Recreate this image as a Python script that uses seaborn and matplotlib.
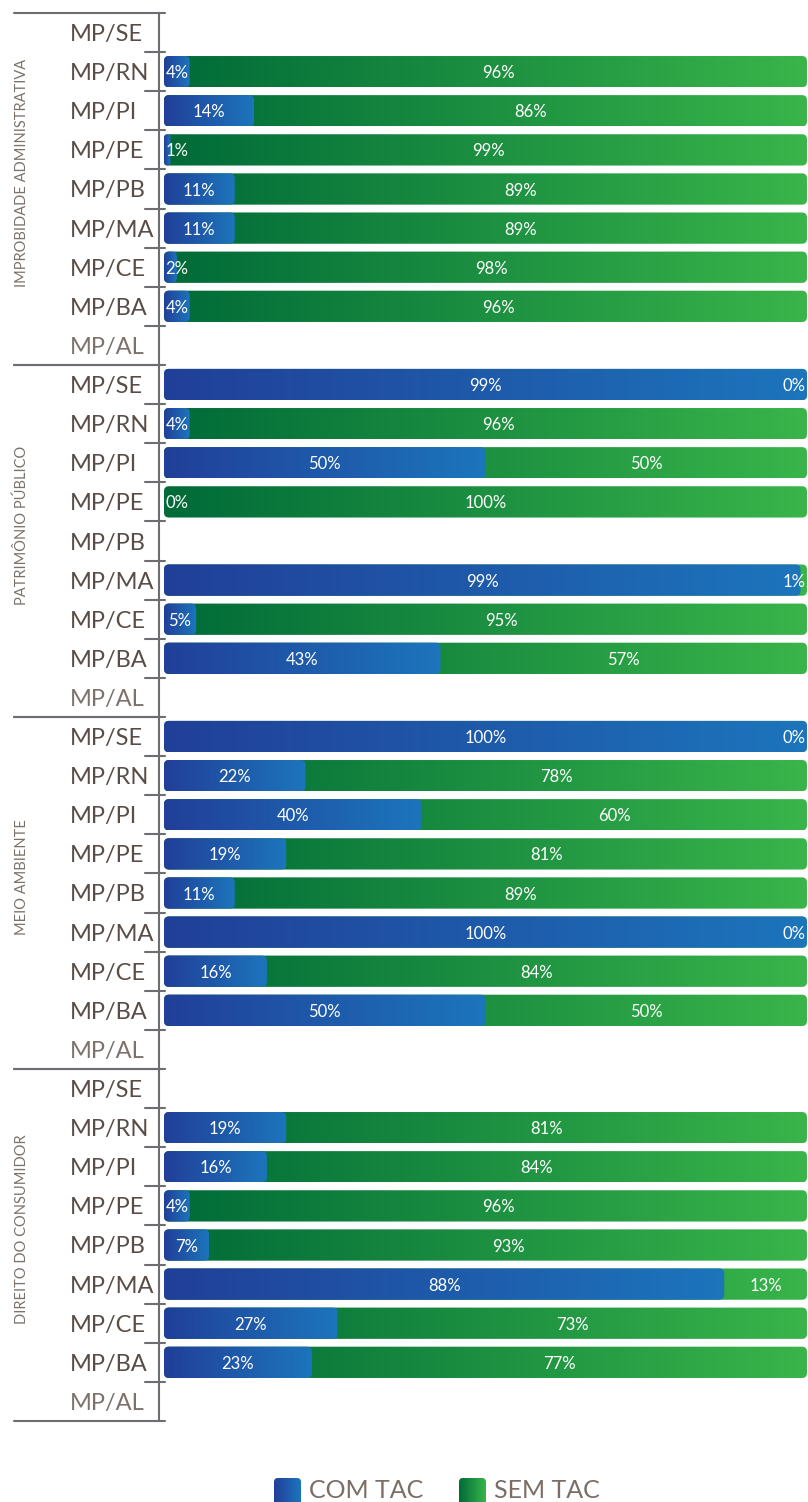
import numpy as np
import pandas as pd
import matplotlib
matplotlib.use("Agg")
import matplotlib.pyplot as plt
import seaborn as sns
from matplotlib.patches import FancyBboxPatch
from matplotlib.colors import LinearSegmentedColormap
from matplotlib.lines import Line2D
from matplotlib.transforms import blended_transform_factory

# ---------------- data ----------------
groups = ["IMPROBIDADE ADMINISTRATIVA", "PATRIMÔNIO PÚBLICO", "MEIO AMBIENTE", "DIREITO DO CONSUMIDOR"]
states = ["MP/SE", "MP/RN", "MP/PI", "MP/PE", "MP/PB", "MP/MA", "MP/CE", "MP/BA", "MP/AL"]

com_improbidade = [None, 4, 14, 1, 11, 11, 2, 4, None]
sem_improbidade = [None, 96, 86, 99, 89, 89, 98, 96, None]
com_patrimonio = [99, 4, 50, 0, None, 99, 5, 43, None]
sem_patrimonio = [0, 96, 50, 100, None, 1, 95, 57, None]
com_meio = [100, 22, 40, 19, 11, 100, 16, 50, None]
sem_meio = [0, 78, 60, 81, 89, 0, 84, 50, None]
com_consumidor = [None, 19, 16, 4, 7, 88, 27, 23, None]
sem_consumidor = [None, 81, 84, 96, 93, 13, 73, 77, None]

series_labels = ["COM TAC", "SEM TAC"]

com_all = [com_improbidade, com_patrimonio, com_meio, com_consumidor]
sem_all = [sem_improbidade, sem_patrimonio, sem_meio, sem_consumidor]

rows = []
for g, name in enumerate(groups):
    for s, st in enumerate(states):
        c, m = com_all[g][s], sem_all[g][s]
        if c is None:
            rows.append(dict(group=name, state=st, com_v=np.nan, sem_v=np.nan, share=np.nan, total=np.nan))
        else:
            share = 100.0 * c / (c + m)
            rows.append(dict(group=name, state=st, com_v=c, sem_v=m, share=share, total=100.0))
df = pd.DataFrame(rows)

# ---------------- style ----------------
sns.set_style("white")
plt.rcParams["font.family"] = ["Lato", "DejaVu Sans"]

W, H = 808, 1502
fig = plt.figure(figsize=(W / 100, H / 100), dpi=100)

BLUE_CM = LinearSegmentedColormap.from_list("b", ["#213f99", "#1c75bc"])
GREEN_CM = LinearSegmentedColormap.from_list("g", ["#006a38", "#39b54a"])
LINE_C = "#6d6e71"
LABEL_C = "#5a4d47"
LABEL_LIGHT = "#7d726b"
GROUP_C = "#7b726c"

top_px = 13
group_px = 352
ax_left_px = 159
XMIN, XMAX = -0.78, 100.16
grad = np.linspace(0, 1, 256).reshape(1, -1)
R_PX = 5.0

axes = []
texts = []
for g, name in enumerate(groups):
    bottom = 1 - (top_px + (g + 1) * group_px) / H
    ax = fig.add_axes([ax_left_px / W, bottom, 1 - ax_left_px / W, group_px / H])
    axes.append(ax)
    sub = df[df.group == name]
    sns.barplot(data=sub, y="state", x="total", order=states, orient="h",
                color="#1f8f43", width=0.8, ax=ax, errorbar=None)
    n_green = len(ax.patches)
    sns.barplot(data=sub, y="state", x="share", order=states, orient="h",
                color="#1f5aa8", width=0.8, ax=ax, errorbar=None)
    ax.set_xlim(XMIN, XMAX)
    ax.set_ylim(8.5, -0.5)

    px_x = (W - ax_left_px) / (XMAX - XMIN)
    px_y = group_px / 9.0
    ma = px_x / px_y
    r_x = R_PX / px_x

    for i, p in enumerate(list(ax.patches)):
        x0, y0, w, h = p.get_x(), p.get_y(), p.get_width(), p.get_height()
        p.set_visible(False)
        if not np.isfinite(w) or w <= 0:
            continue
        is_green = i < n_green
        r = min(r_x, w / 2.0)
        box = FancyBboxPatch((x0, y0), w, h, boxstyle=f"round,pad=0,rounding_size={r}",
                             mutation_aspect=ma, transform=ax.transData,
                             facecolor="none", edgecolor="none")
        ax.add_patch(box)
        if is_green:
            ext = (0, 100, y0 + h, y0)
            im = ax.imshow(grad, cmap=GREEN_CM, extent=ext, aspect="auto", zorder=2,
                           interpolation="bilinear")
        else:
            ext = (x0, x0 + w, y0 + h, y0)
            im = ax.imshow(grad, cmap=BLUE_CM, extent=ext, aspect="auto", zorder=3,
                           interpolation="bilinear")
        im.set_clip_path(box)

    # value labels
    for s, st in enumerate(states):
        rec = sub[sub.state == st].iloc[0]
        if not np.isfinite(rec["share"]):
            continue
        t1 = ax.text(rec["share"] / 2, s + 0.04, f"{int(rec['com_v'])}%", ha="center", va="center",
                     color="white", fontsize=12, zorder=5)
        t2 = ax.text((rec["share"] + 100) / 2, s + 0.04, f"{int(rec['sem_v'])}%", ha="center",
                     va="center", color="white", fontsize=12, zorder=5)
        texts.append((ax, t1, px_x))
        texts.append((ax, t2, px_x))

    # axis styling
    for sp in ["top", "right", "bottom"]:
        ax.spines[sp].set_visible(False)
    ax.spines["left"].set_color(LINE_C)
    ax.spines["left"].set_linewidth(1.5)
    ax.set_xlabel("")
    ax.set_ylabel("")
    ax.set_xticks([])
    ax.set_yticks(range(9))
    ax.set_yticklabels(states, ha="left", fontsize=17)
    ax.tick_params(axis="y", length=0, pad=64)
    for k, lab in enumerate(ax.get_yticklabels()):
        lab.set_color(LABEL_LIGHT if k == 8 else LABEL_C)

    tr = blended_transform_factory(fig.transFigure, ax.transData)
    for yy in (-0.5, 8.5):
        ax.add_line(Line2D([14 / W, 165 / W], [yy, yy], transform=tr, color=LINE_C,
                           lw=1.5, clip_on=False))
    for k in range(8):
        ax.add_line(Line2D([145 / W, 165 / W], [k + 0.5, k + 0.5], transform=tr, color=LINE_C,
                           lw=1.5, clip_on=False))
    ax.text(22 / W, 3.6, name, transform=tr, rotation=90, ha="center", va="center",
            fontsize=10.5, color=GROUP_C)
    ax.set_xlim(XMIN, XMAX)
    ax.set_ylim(8.5, -0.5)

# clamp labels inside bar extent
fig.canvas.draw()
ren = fig.canvas.get_renderer()
for ax, t, px_x in texts:
    wd = t.get_window_extent(ren).width / px_x
    x, y = t.get_position()
    if x - wd / 2 < 0.2:
        t.set_position((0.2, y)); t.set_ha("left")
    elif x + wd / 2 > 99.8:
        t.set_position((99.8, y)); t.set_ha("right")

# legend
lax = fig.add_axes([0, 0, 1, 45 / H])
lax.set_xlim(0, W)
lax.set_ylim(0, 45)
lax.axis("off")
for (x0, cm, lab) in [(274, BLUE_CM, series_labels[0]), (459, GREEN_CM, series_labels[1])]:
    box = FancyBboxPatch((x0, -6), 27, 30, boxstyle="round,pad=0,rounding_size=4",
                         transform=lax.transData, facecolor="none", edgecolor="none")
    lax.add_patch(box)
    im = lax.imshow(grad, cmap=cm, extent=(x0, x0 + 27, -6, 24), aspect="auto",
                    interpolation="bilinear")
    im.set_clip_path(box)
    lax.text(x0 + 35, 11, lab, ha="left", va="center", fontsize=18, color="#7a6e66")
lax.set_xlim(0, W)
lax.set_ylim(0, 45)

fig.savefig("out.png", dpi=100)
